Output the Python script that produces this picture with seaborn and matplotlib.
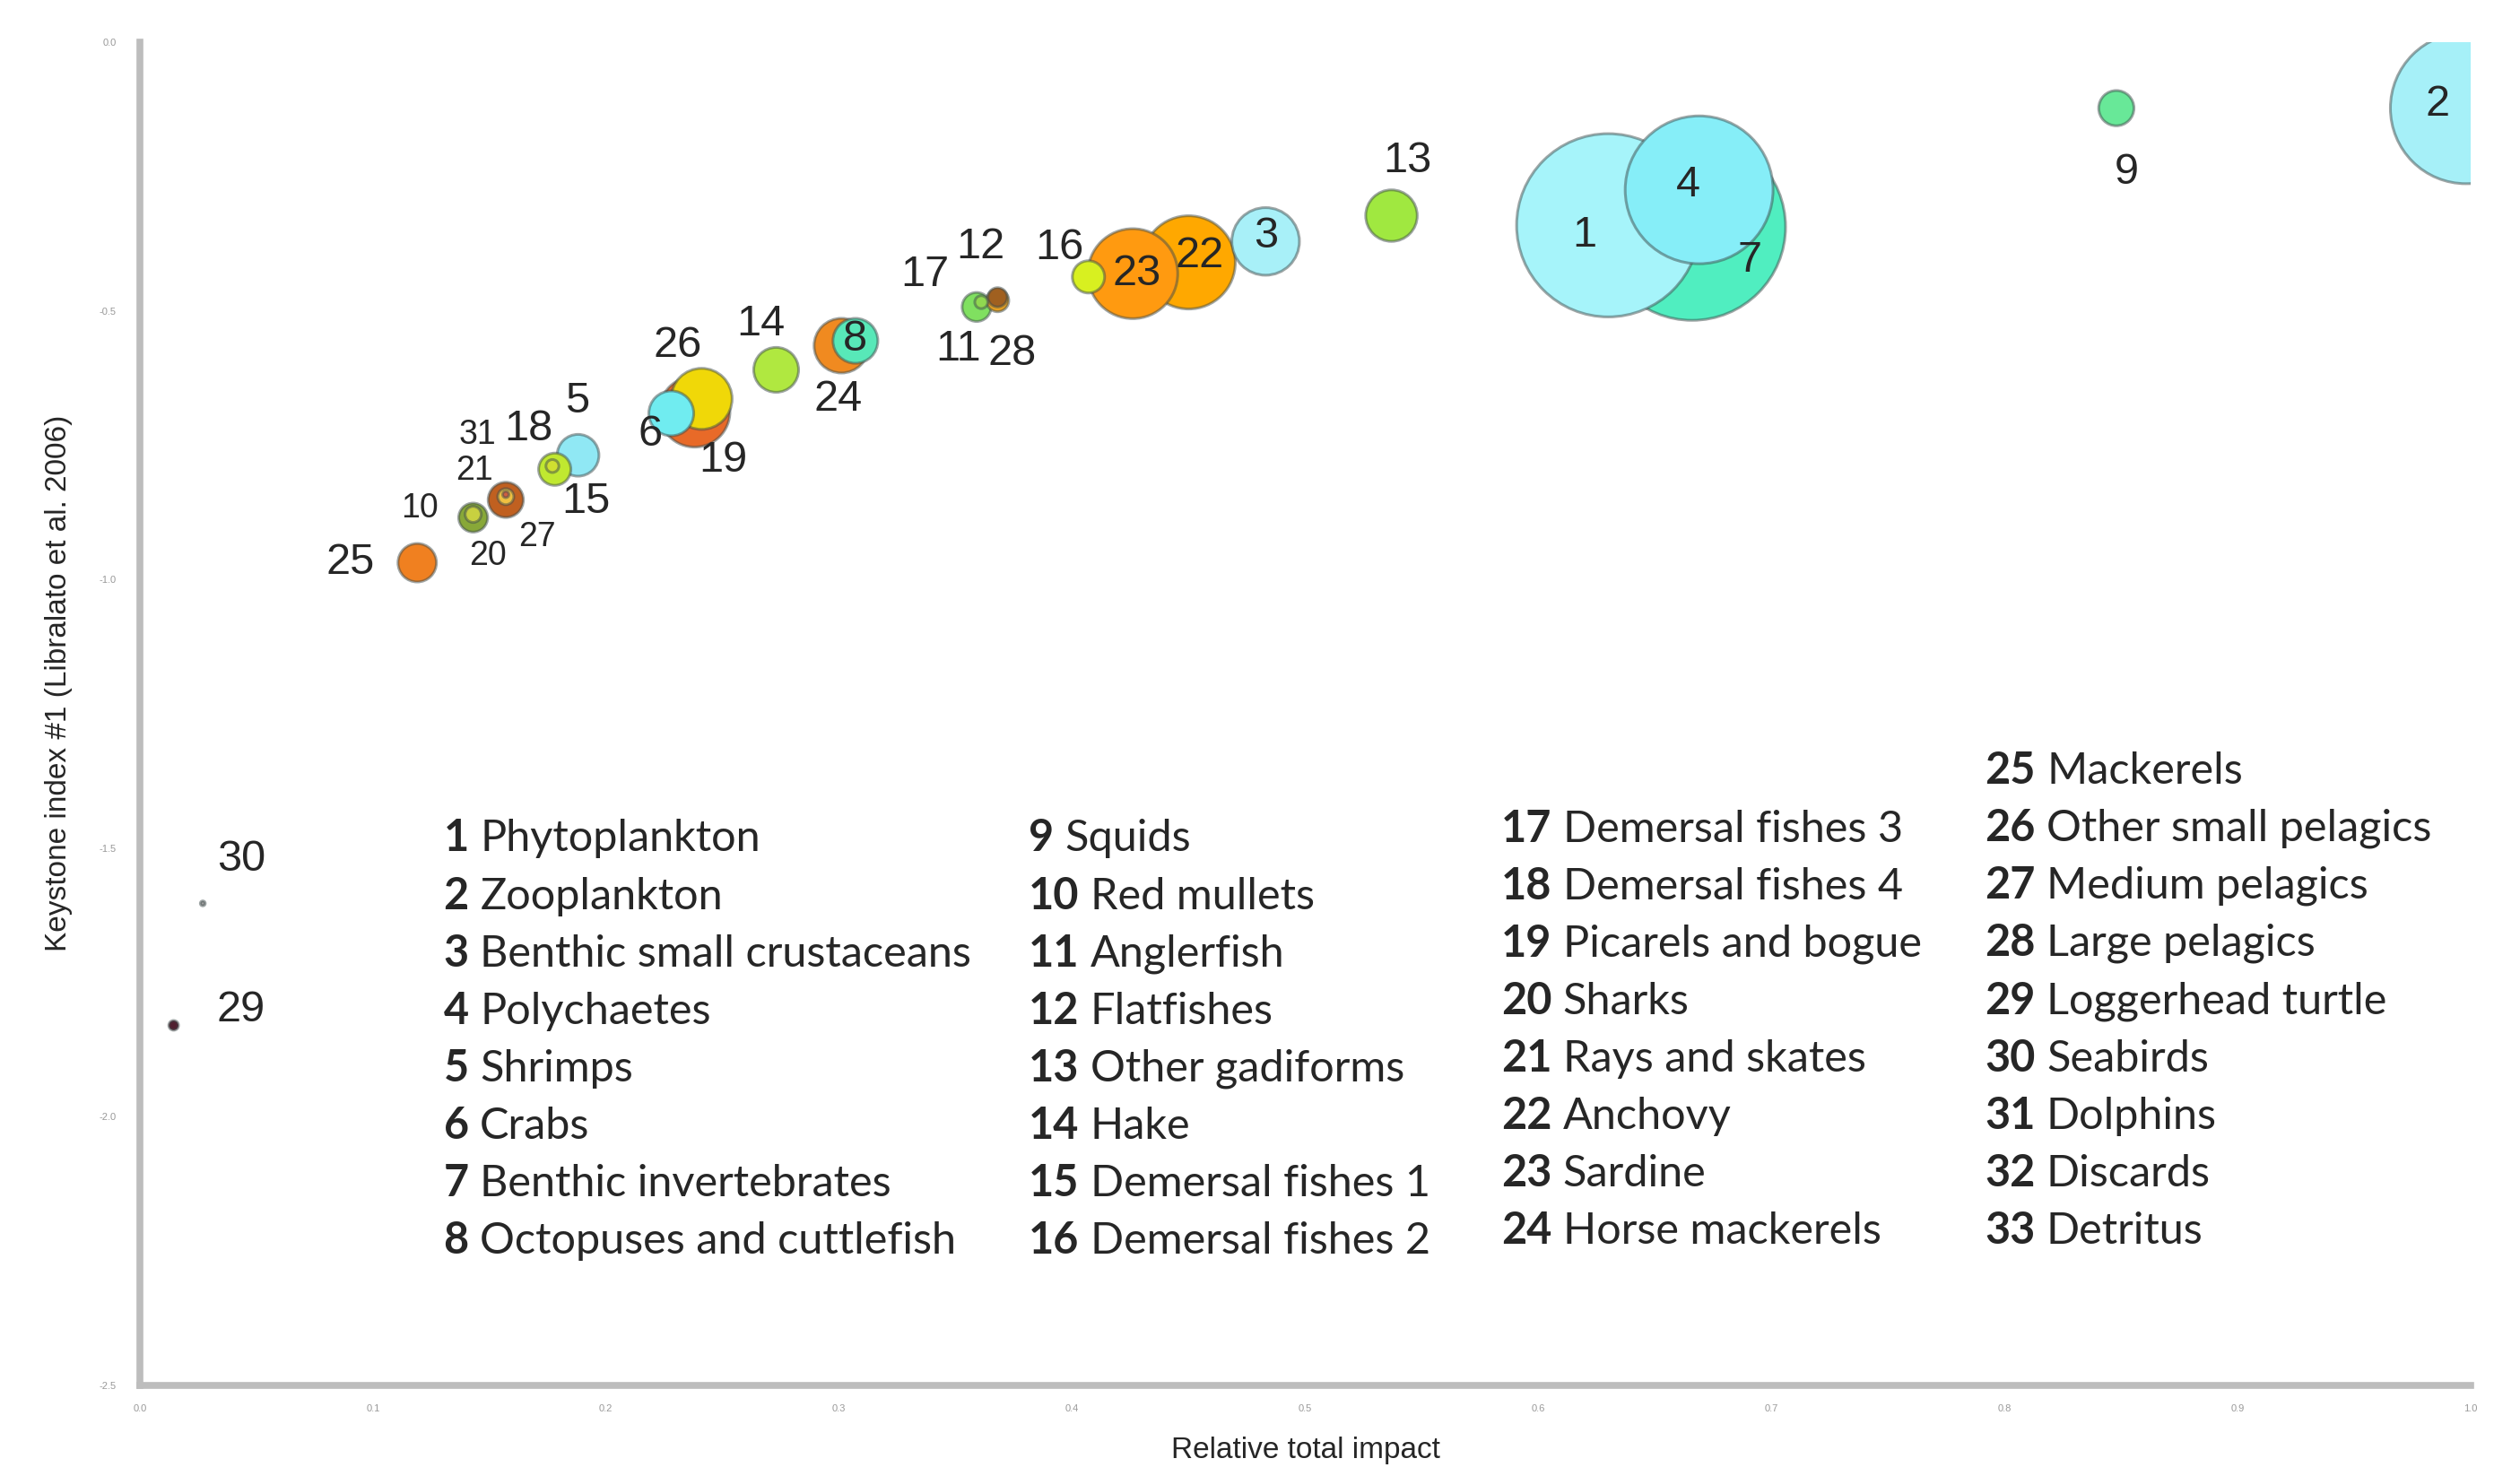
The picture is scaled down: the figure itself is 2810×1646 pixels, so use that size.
import matplotlib
matplotlib.use("Agg")
import matplotlib.pyplot as plt
import numpy as np
import pandas as pd
import seaborn as sns

# functional groups (number = position in list + 1)
group_names = [
    "Phytoplankton", "Zooplankton", "Benthic small crustaceans", "Polychaetes",
    "Shrimps", "Crabs", "Benthic invertebrates", "Octopuses and cuttlefish",
    "Squids", "Red mullets", "Anglerfish", "Flatfishes", "Other gadiforms",
    "Hake", "Demersal fishes 1", "Demersal fishes 2", "Demersal fishes 3",
    "Demersal fishes 4", "Picarels and bogue", "Sharks", "Rays and skates",
    "Anchovy", "Sardine", "Horse mackerels", "Mackerels", "Other small pelagics",
    "Medium pelagics", "Large pelagics", "Loggerhead turtle", "Seabirds",
    "Dolphins", "Discards", "Detritus",
]

# relative total impact (x), keystone index (y), relative biomass (bubble area)
impact = [0.630, 0.998, 0.483, 0.669, 0.188, 0.228, 0.666, 0.307, 0.848, 0.143,
          0.359, 0.368, 0.537, 0.273, 0.178, 0.407, 0.361, 0.177, 0.238, 0.143,
          0.157, 0.450, 0.426, 0.301, 0.119, 0.241, 0.157, 0.368, 0.0145, 0.027,
          0.157, np.nan, np.nan]
keystone = [-0.341, -0.123, -0.371, -0.275, -0.769, -0.691, -0.344, -0.556, -0.123, -0.879,
            -0.493, -0.475, -0.323, -0.610, -0.795, -0.437, -0.484, -0.789, -0.688, -0.885,
            -0.846, -0.410, -0.431, -0.565, -0.969, -0.664, -0.852, -0.481, -1.830, -1.603,
            -0.842, np.nan, np.nan]
biomass = [1.0, 0.68, 0.136, 0.651, 0.052, 0.060, 1.04, 0.060, 0.037, 0.0077,
           0.025, 0.011, 0.079, 0.060, 0.031, 0.031, 0.005, 0.005, 0.149, 0.025,
           0.0077, 0.259, 0.241, 0.089, 0.044, 0.111, 0.037, 0.015, 0.0028, 0.0007,
           0.0012, np.nan, np.nan]

colors = [
    "#a6f4fa", "#a6f0f8", "#a8f0f8", "#86eef8", "#90e8f4", "#70ecf0", "#50eec0",
    "#58e8b8", "#68e898", "#c8d040", "#80e060", "#a06020", "#a0e840", "#b0e840",
    "#c0e830", "#d8f020", "#90d850", "#d0e030", "#e86a28", "#88a838", "#f0c040",
    "#ffa800", "#ff9a10", "#f08a20", "#f08020", "#f0d808", "#c06020", "#e8a020",
    "#502030", "#a0a0a0", "#d06040", "#999999", "#999999",
]

x_ticks = [0.0, 0.1, 0.2, 0.3, 0.4, 0.5, 0.6, 0.7, 0.8, 0.9, 1.0]
y_ticks = [0.0, -0.5, -1.0, -1.5, -2.0, -2.5]

# label offsets (points) from bubble centre
label_offsets = {
    1: (-19, -8), 2: (-23, 3), 3: (0, 4), 4: (-9, 4), 5: (-1, 43), 6: (-17, -17),
    7: (46, -27), 8: (0, 1), 9: (8, -52), 10: (-43, 5), 11: (-15, -34), 12: (-14, 40),
    13: (13, 44), 14: (-12, 37), 15: (25, -26), 16: (-23, 23), 17: (-45, 22),
    18: (-19, 30), 19: (23, -39), 20: (12, -31), 21: (-25, 21), 22: (9, 5), 23: (3, 0),
    24: (-3, -43), 25: (-54, 0), 26: (-19, 43), 27: (25, -30), 28: (12, -43),
    29: (54, 12), 30: (31, 35), 31: (-23, 48),
}
small_labels = {10, 20, 21, 27, 31}

sns.set_style("white")
plt.rcParams["font.family"] = ["Liberation Sans", "DejaVu Sans"]
plt.rcParams["axes.unicode_minus"] = False

df = pd.DataFrame({
    "num": range(1, len(group_names) + 1),
    "name": group_names,
    "impact": impact,
    "keystone": keystone,
    "biomass": biomass,
}).dropna().sort_values("biomass", ascending=False)

fig = plt.figure(figsize=(28.1, 16.46), dpi=100)
ax = fig.add_axes([0.0555, 0.0614, 0.9249, 0.9101])

sns.scatterplot(data=df, x="impact", y="keystone", hue="name",
                palette=dict(zip(group_names, colors)),
                size="biomass", sizes=(0, 21640 * 1.04), size_norm=(0, 1.04),
                edgecolor=(0.25, 0.3, 0.3, 0.5), linewidth=2.2,
                legend=False, ax=ax)

for _, row in df.iterrows():
    n = int(row["num"])
    ax.annotate(str(n), (row["impact"], row["keystone"]),
                xytext=label_offsets[n], textcoords="offset points",
                ha="center", va="center", zorder=5,
                fontsize=27 if n in small_labels else 35)

ax.set_xlim(0, 1.0)
ax.set_ylim(-2.5, 0)
ax.set_xticks(x_ticks)
ax.set_xticklabels([f"{v:.1f}" for v in x_ticks])
ax.set_yticks(y_ticks)
ax.set_yticklabels([f"{v:.1f}" for v in y_ticks])
ax.tick_params(direction="inout", length=14, width=1.8, color="#666666",
               labelsize=8, labelcolor="#999999")
ax.tick_params(axis="x", pad=8)
ax.tick_params(axis="y", pad=12)

for side in ["top", "right"]:
    ax.spines[side].set_visible(False)
for side in ["left", "bottom"]:
    ax.spines[side].set_color("#bdbdbd")
    ax.spines[side].set_linewidth(5.5)

ax.set_xlabel("Relative total impact", fontsize=24)
ax.set_ylabel("Keystone index #1 (Libralato et al. 2006)", fontsize=24)
ax.xaxis.set_label_coords(0.5, -0.038)
ax.yaxis.set_label_coords(-0.029, 0.523)

# numbered legend of the functional groups, in four columns
legend_cols = [
    (0.1303, 0.4072, range(0, 8)),
    (0.3813, 0.4072, range(8, 16)),
    (0.5840, 0.4144, range(16, 24)),
    (0.7915, 0.4574, range(24, 33)),
]
row_step = 0.04277
for x0, y0, idxs in legend_cols:
    for k, i in enumerate(idxs):
        t = ax.text(x0, y0 - k * row_step, str(i + 1), transform=ax.transAxes,
                    family="Lato", fontweight="bold", fontsize=35, va="center")
        ax.annotate(group_names[i], xy=(1, 0), xycoords=t, xytext=(9, 0),
                    textcoords="offset points", family="Lato", fontsize=35,
                    va="bottom", ha="left")

fig.savefig("out.png", dpi=100)
